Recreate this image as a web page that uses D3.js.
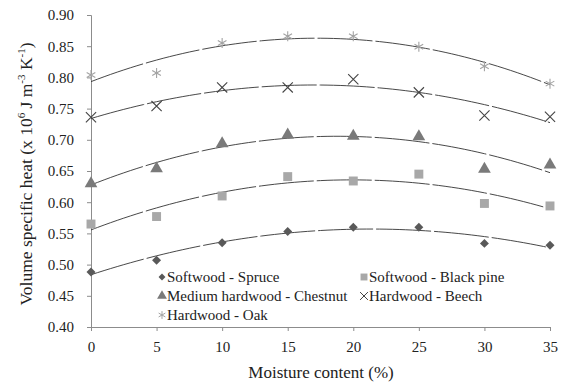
<!DOCTYPE html>
<html>
<head>
<meta charset="utf-8">
<script src="https://cdn.jsdelivr.net/npm/d3@7"></script>
<style>
  body { margin: 0; background: #fff; }
  svg text { font-family: "Liberation Serif", "Times New Roman", Times, "DejaVu Serif", serif; fill: #222; }
</style>
</head>
<body>
<div id="chart"></div>
<script>
// moisture content (%) on the x axis
var moisture = [0, 5, 10, 15, 20, 25, 30, 35];

// volume specific heat, x 10^6 J m-3 K-1
var spruce    = [0.488, 0.507, 0.535, 0.553, 0.560, 0.560, 0.534, 0.531];
var blackPine = [0.565, 0.577, 0.610, 0.641, 0.634, 0.645, 0.598, 0.594];
var chestnut  = [0.630, 0.654, 0.694, 0.708, 0.706, 0.705, 0.653, 0.660];
var beech     = [0.736, 0.754, 0.784, 0.784, 0.797, 0.776, 0.739, 0.737];
var oak       = [0.804, 0.807, 0.855, 0.866, 0.866, 0.849, 0.818, 0.790];

var seriesNames = ["Softwood - Spruce", "Softwood - Black pine", "Medium hardwood - Chestnut",
                   "Hardwood - Beech", "Hardwood - Oak"];
var yTicks = [0.40, 0.45, 0.50, 0.55, 0.60, 0.65, 0.70, 0.75, 0.80, 0.85, 0.90];
var xTicks = [0, 5, 10, 15, 20, 25, 30, 35];

var FONT = '"Liberation Serif", "Times New Roman", Times, "DejaVu Serif", serif';
var W = 569, H = 383;
var margin = {left: 91, right: 19, top: 15, bottom: 56};

var svg = d3.select("#chart").append("svg")
    .attr("width", W)
    .attr("height", H)
    .style("font-family", FONT);

var x = d3.scaleLinear().domain([0, 35]).range([margin.left, W - margin.right]);
var y = d3.scaleLinear().domain([0.40, 0.90]).range([H - margin.bottom, margin.top]);

// axes
var yAxis = svg.append("g")
    .attr("transform", "translate(" + margin.left + ",0)")
    .call(d3.axisLeft(y).tickValues(yTicks).tickFormat(d3.format(".2f")).tickSize(4).tickPadding(13));
var xAxis = svg.append("g")
    .attr("transform", "translate(0," + (H - margin.bottom) + ")")
    .call(d3.axisBottom(x).tickValues(xTicks).tickSize(4).tickPadding(10));

[yAxis, xAxis].forEach(function(a) {
    a.attr("font-family", FONT);
    a.select(".domain").attr("stroke", "#8c8c8c");
    a.selectAll(".tick line").attr("stroke", "#8c8c8c");
    a.selectAll(".tick text")
        .style("font-family", FONT)
        .style("font-size", "15px")
        .attr("fill", "#222");
});

// axis titles
svg.append("text")
    .attr("x", 321)
    .attr("y", 378)
    .attr("text-anchor", "middle")
    .style("font-size", "17px")
    .text("Moisture content (%)");

var yl = svg.append("text")
    .attr("transform", "translate(32,174) rotate(-90)")
    .attr("text-anchor", "middle")
    .style("font-size", "17.5px");
yl.append("tspan").text("Volume specific heat (x 10");
yl.append("tspan").attr("dy", -7).style("font-size", "11px").text("6");
yl.append("tspan").attr("dy", 7).text("  J m");
yl.append("tspan").attr("dy", -7).style("font-size", "11px").text("-3");
yl.append("tspan").attr("dy", 7).text(" K");
yl.append("tspan").attr("dy", -7).style("font-size", "11px").text("-1");
yl.append("tspan").attr("dy", 7).text(")");

// least squares quadratic, like the spreadsheet trendline
function polyFit(xs, ys) {
    var s = [0, 0, 0, 0, 0], t = [0, 0, 0];
    xs.forEach(function(xv, i) {
        for (var k = 0; k < 5; k++) s[k] += Math.pow(xv, k);
        for (var j = 0; j < 3; j++) t[j] += ys[i] * Math.pow(xv, j);
    });
    var A = [[s[0], s[1], s[2], t[0]], [s[1], s[2], s[3], t[1]], [s[2], s[3], s[4], t[2]]];
    for (var i = 0; i < 3; i++) {
        for (var r = i + 1; r < 3; r++) {
            var f = A[r][i] / A[i][i];
            for (var c = i; c < 4; c++) A[r][c] -= f * A[i][c];
        }
    }
    var b = [0, 0, 0];
    for (var i2 = 2; i2 >= 0; i2--) {
        var v = A[i2][3];
        for (var c2 = i2 + 1; c2 < 3; c2++) v -= A[i2][c2] * b[c2];
        b[i2] = v / A[i2][i2];
    }
    return function(xv) { return b[0] + b[1] * xv + b[2] * xv * xv; };
}

var series = [
    {name: seriesNames[0], vals: spruce,    sym: d3.symbolSquare,   size: 40, rot: 45, fill: "#595959", stroke: null},
    {name: seriesNames[1], vals: blackPine, sym: d3.symbolSquare,   size: 80, rot: 0,  fill: "#a8a8a8", stroke: null},
    {name: seriesNames[2], vals: chestnut,  sym: d3.symbolTriangle, size: 70, rot: 0,  fill: "#7a7a7a", stroke: null},
    {name: seriesNames[3], vals: beech,     sym: d3.symbolX,        size: 70, rot: 0,  fill: "none",    stroke: "#444"},
    {name: seriesNames[4], vals: oak,       sym: d3.symbolAsterisk, size: 70, rot: 0,  fill: "none",    stroke: "#a3a3a3"}
];

var line = d3.line().x(function(d) { return x(d[0]); }).y(function(d) { return y(d[1]); });

series.forEach(function(s) {
    var fit = polyFit(moisture, s.vals);
    var pts = d3.range(0, 35.01, 0.5).map(function(m) { return [m, fit(m)]; });
    svg.append("path")
        .attr("d", line(pts))
        .attr("fill", "none")
        .attr("stroke", "#333")
        .attr("stroke-width", 0.9)
        .attr("stroke-dasharray", "55,3");
});

series.forEach(function(s) {
    svg.selectAll(null)
        .data(s.vals)
        .enter()
        .append("path")
            .attr("transform", function(d, i) {
                return "translate(" + x(moisture[i]) + "," + y(d) + ") rotate(" + s.rot + ")";
            })
            .attr("d", d3.symbol().type(s.sym).size(s.size))
            .attr("fill", s.fill)
            .attr("stroke", s.stroke || "none")
            .attr("stroke-width", 1.1);
});

// legend inside the plot area
var legendPos = [[162, 277], [364, 277], [162, 296], [364, 296], [162, 315]];
series.forEach(function(s, i) {
    var g = svg.append("g").attr("transform", "translate(" + legendPos[i][0] + "," + legendPos[i][1] + ")");
    g.append("path")
        .attr("transform", "rotate(" + s.rot + ")")
        .attr("d", d3.symbol().type(s.sym).size(s.size * 0.6))
        .attr("fill", s.fill)
        .attr("stroke", s.stroke || "none")
        .attr("stroke-width", 1);
    g.append("text")
        .attr("x", 5)
        .attr("y", 5)
        .style("font-size", "15px")
        .text(s.name);
});
</script>
</body>
</html>
